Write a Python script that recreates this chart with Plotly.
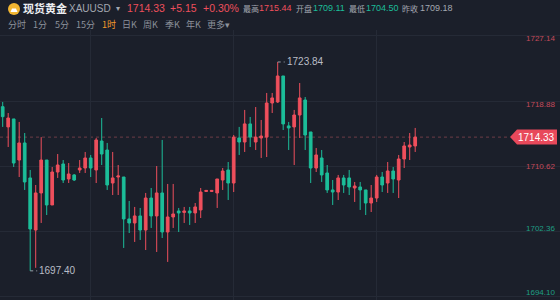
import plotly.graph_objects as go

# ---------------- data ----------------
opens = [1718.18, 1715.62, 1716.63, 1711.43, 1713.59, 1709.16, 1702.57, 1707.26, 1711.43, 1705.74,
         1709.91, 1710.93, 1709.03, 1709.54, 1710.17, 1710.42, 1711.69, 1710.17, 1713.84, 1712.70,
         1708.52, 1709.28, 1709.28, 1703.97, 1703.46, 1704.35, 1702.57, 1706.62, 1704.35, 1707.26,
         1702.32, 1704.22, 1704.98, 1704.80, 1704.98, 1704.73, 1705.11, 1707.45, 1707.45, 1707.26,
         1708.90, 1710.17, 1708.52, 1714.22, 1713.71, 1716.00, 1713.71, 1714.22, 1714.33, 1718.65,
         1718.78, 1722.07, 1715.75, 1715.62, 1717.13, 1719.03, 1714.98, 1710.42, 1711.69, 1709.79,
         1707.64, 1707.38, 1709.16, 1709.16, 1707.89, 1708.02, 1707.64, 1705.99, 1706.62, 1709.28,
         1708.52, 1710.04, 1708.90, 1711.56, 1713.08, 1713.21]
highs = [1718.78, 1717.38, 1716.63, 1716.25, 1714.85, 1710.17, 1708.27, 1714.33, 1711.43, 1710.55,
         1712.19, 1711.43, 1711.05, 1709.66, 1711.43, 1712.45, 1712.07, 1714.22, 1716.75, 1713.59,
         1712.45, 1710.80, 1709.28, 1706.25, 1705.49, 1705.36, 1707.26, 1707.89, 1710.67, 1713.97,
         1708.40, 1708.40, 1705.36, 1705.49, 1705.49, 1705.99, 1707.89, 1707.64, 1707.64, 1709.03,
         1710.42, 1711.18, 1714.60, 1715.62, 1717.77, 1716.88, 1718.14, 1716.50, 1719.92, 1719.92,
         1723.84, 1722.07, 1716.25, 1717.77, 1721.18, 1719.41, 1714.98, 1712.95, 1712.70, 1710.80,
         1708.90, 1709.54, 1709.54, 1710.17, 1708.65, 1708.65, 1707.64, 1708.27, 1709.54, 1709.91,
         1711.18, 1710.55, 1712.07, 1713.71, 1714.85, 1715.49]
lows = [1715.62, 1713.08, 1710.55, 1709.28, 1707.64, 1697.40, 1697.78, 1703.46, 1704.47, 1705.74,
        1709.16, 1708.52, 1708.52, 1708.78, 1709.79, 1709.79, 1709.28, 1708.52, 1710.80, 1707.64,
        1707.00, 1707.00, 1700.30, 1702.19, 1701.06, 1701.31, 1700.04, 1702.83, 1699.79, 1701.56,
        1698.53, 1702.83, 1702.32, 1703.46, 1703.21, 1703.46, 1704.09, 1707.38, 1707.38, 1705.36,
        1707.64, 1706.37, 1707.38, 1712.07, 1712.45, 1713.08, 1712.70, 1711.69, 1711.81, 1717.38,
        1718.65, 1715.23, 1712.70, 1710.80, 1714.22, 1712.70, 1708.52, 1709.91, 1708.65, 1707.26,
        1705.74, 1706.37, 1707.26, 1707.00, 1706.12, 1705.11, 1704.47, 1704.85, 1706.12, 1707.38,
        1707.26, 1707.26, 1706.62, 1710.42, 1711.43, 1712.45]
closes = [1716.92, 1716.75, 1711.05, 1713.59, 1708.65, 1702.70, 1707.26, 1711.43, 1705.74, 1709.91,
          1710.80, 1708.90, 1709.66, 1708.90, 1710.42, 1711.69, 1710.42, 1713.97, 1712.19, 1708.27,
          1709.16, 1709.41, 1703.97, 1703.46, 1704.35, 1702.57, 1706.62, 1704.35, 1707.26, 1702.32,
          1704.22, 1704.60, 1704.73, 1704.98, 1704.73, 1705.49, 1707.38, 1707.58, 1707.58, 1709.03,
          1710.04, 1708.52, 1714.33, 1713.71, 1716.00, 1714.33, 1714.33, 1714.47, 1718.65, 1719.29,
          1722.07, 1716.00, 1715.49, 1717.13, 1719.29, 1714.60, 1710.42, 1712.07, 1709.54, 1707.64,
          1707.38, 1709.16, 1708.27, 1708.02, 1708.14, 1707.64, 1705.99, 1706.62, 1709.28, 1708.27,
          1710.04, 1709.03, 1711.56, 1713.21, 1713.33, 1714.33]
idx = list(range(len(opens)))

axis_ticks = [1727.14, 1718.88, 1710.62, 1702.36, 1694.10]
axis_labels = ["1727.14", "1718.88", "1710.62", "1702.36", "1694.10"]
day_breaks = [16, 42, 68]

last_price = 1714.33
prev_close = 1709.18
today_high = "1715.44"
today_open = "1709.11"
today_low = "1704.50"
change = "+5.15"
change_pct = "+0.30%"

timeframes = ["分时", "1分", "5分", "15分", "1时", "日K", "周K", "季K", "年K", "更多▾"]
active_tf = "1时"

# ---------------- styles ----------------
W, H = 560, 300
MT, MB = 30, 0
PH = H - MT - MB
BG = "#1b1f2a"
RED = "#ee4f5c"
GREEN = "#1cbd99"
FONT = "Liberation Sans, Noto Sans CJK SC, sans-serif"
CJK = "Noto Sans CJK SC, sans-serif"

Y0, Y1 = 1693.71, 1727.89
X0, X1 = -0.49, 101.33
ppu_y = PH / (Y1 - Y0)
ppu_x = W / (X1 - X0)


def px(xp):
    return xp / W


def py(yp):
    return (H - MB - yp) / PH


fig = go.Figure()
fig.add_trace(go.Candlestick(
    x=idx, open=opens, high=highs, low=lows, close=closes,
    increasing=dict(line=dict(color=RED, width=1), fillcolor=RED),
    decreasing=dict(line=dict(color=GREEN, width=1), fillcolor=GREEN),
    whiskerwidth=0, hoverinfo="skip", showlegend=False,
))

annotations = []
shapes = []

# y-axis labels
shifts = [-3, -3, 0, 3, 4]
for v, lab, s in zip(axis_ticks, axis_labels, shifts):
    col = "#c44a5b" if v > prev_close else "#1f9e84"
    annotations.append(dict(xref="paper", yref="y", x=1, y=v, xanchor="right", yanchor="middle",
                            xshift=-3, yshift=s, text=lab, showarrow=False,
                            font=dict(family=FONT, size=8, color=col)))

# current price dotted line + tag
tag_left = 510
tag_body = 517
shapes.append(dict(type="line", xref="paper", yref="y", x0=0, x1=px(tag_left), y0=last_price,
                   y1=last_price, line=dict(color="#6e3c47", width=1, dash="dot"), layer="below"))
hh = 7.5 / ppu_y
path = (f"M {px(tag_left)} {last_price} L {px(tag_body)} {last_price + hh} "
        f"L {px(557)} {last_price + hh} L {px(557)} {last_price - hh} "
        f"L {px(tag_body)} {last_price - hh} Z")
shapes.append(dict(type="path", xref="paper", yref="y", path=path, fillcolor="#e8495b",
                   line=dict(width=0)))
annotations.append(dict(xref="paper", yref="y", x=px(536), y=last_price, xanchor="center",
                        yanchor="middle", text=f"{last_price:.2f}", showarrow=False,
                        font=dict(family=FONT, size=10, color="#ffffff")))

# extreme labels
i_lo = lows.index(min(lows))
i_hi = highs.index(max(highs))
for i, v in ((i_lo, lows[i_lo]), (i_hi, highs[i_hi])):
    shapes.append(dict(type="line", xref="x", yref="y", x0=i, x1=i + 7 / ppu_x, y0=v, y1=v,
                       line=dict(color="#9aa0aa", width=1, dash="dot")))
    annotations.append(dict(xref="x", yref="y", x=i + 7 / ppu_x, y=v, xanchor="left",
                            yanchor="middle", text=f"{v:.2f}", showarrow=False,
                            font=dict(family=FONT, size=10, color="#b9bdc6")))

# header row 1
def hdr(text, x, y, size, color, fam=FONT):
    annotations.append(dict(xref="paper", yref="paper", x=px(x), y=py(y), xanchor="left",
                            yanchor="middle", text=text, showarrow=False,
                            font=dict(family=fam, size=size, color=color)))


shapes.append(dict(type="circle", xref="paper", yref="paper", x0=px(8), x1=px(20),
                   y0=py(15), y1=py(3), fillcolor="#f2b632", line=dict(width=0)))
shapes.append(dict(type="path", xref="paper", yref="paper",
                   path=f"M {px(10.5)} {py(12)} L {px(12)} {py(8.5)} L {px(16)} {py(8.5)} "
                        f"L {px(17.5)} {py(12)} Z",
                   fillcolor="#ffffff", line=dict(width=0)))

hdr("<b>现货黄金</b>", 21, 8.5, 11, "#eceef1", CJK)
hdr("XAUUSD", 67, 8.5, 10, "#a3a7b0")
hdr("▾", 114, 8.5, 8, "#a3a7b0")
hdr(f"{last_price:.2f}", 125, 8.5, 10.5, RED)
hdr(change, 168, 8.5, 10.5, RED)
hdr(change_pct, 201, 8.5, 10.5, RED)
hdr("最高", 241, 8.5, 8, "#a3a7b0", CJK)
hdr(today_high, 257, 8.5, 9, RED)
hdr("开盘", 294, 8.5, 8, "#a3a7b0", CJK)
hdr(today_open, 311, 8.5, 9, GREEN)
hdr("最低", 347, 8.5, 8, "#a3a7b0", CJK)
hdr(today_low, 364, 8.5, 9, GREEN)
hdr("昨收", 400, 8.5, 8, "#a3a7b0", CJK)
hdr(f"{prev_close:.2f}", 418, 8.5, 9, "#a3a7b0")

# header row 2
tf_x = [6, 31, 53, 74, 100, 120, 141, 163, 184, 205]
for t, x in zip(timeframes, tf_x):
    col = "#f39a2b" if t == active_tf else "#8d929c"
    hdr(t, x, 25, 9, col, CJK)

fig.update_layout(
    width=W, height=H,
    margin=dict(l=0, r=0, t=MT, b=MB),
    paper_bgcolor=BG, plot_bgcolor=BG,
    xaxis=dict(range=[X0, X1], rangeslider=dict(visible=False), showticklabels=False,
               tickvals=day_breaks, showgrid=True, gridcolor="#252a36", gridwidth=1,
               zeroline=False, showline=False, ticks="", fixedrange=True),
    yaxis=dict(range=[Y0, Y1], showticklabels=False, tickvals=axis_ticks, showgrid=True,
               gridcolor="#252a36", gridwidth=1, zeroline=False, showline=False, ticks=""),
    annotations=annotations, shapes=shapes, showlegend=False,
)

fig.write_html("out.html")
